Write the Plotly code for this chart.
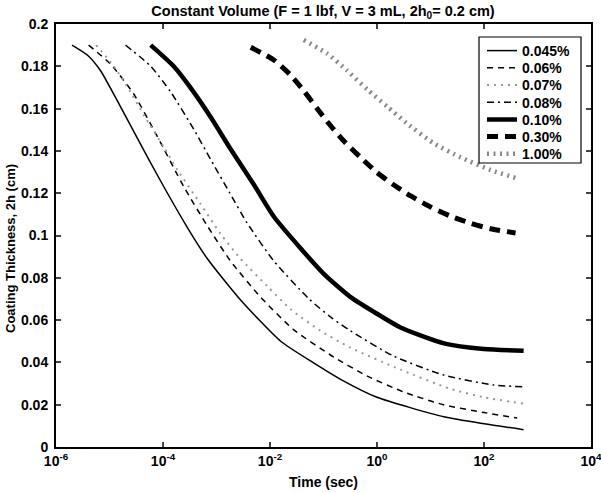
import numpy as np
import plotly.graph_objects as go

# ---- data (log10 of time in seconds, coating thickness 2h in cm) ----
logt_045 = [-5.70, -5.40, -5.17, -4.86, -4.48, -4.05, -3.55, -3.17, -2.55, -1.80, -1.20, -0.68, 0.0, 1.25, 2.0, 2.74]
h_045    = [0.190, 0.185, 0.178, 0.164, 0.146, 0.126, 0.104, 0.089, 0.0695, 0.050, 0.040, 0.032, 0.0235, 0.0143, 0.0110, 0.0082]

logt_060 = [-5.39, -4.98, -4.55, -4.11, -3.61, -3.17, -2.74, -2.18, -1.56, -0.87, -0.18, 0.50, 1.24, 2.0, 2.62]
h_060    = [0.190, 0.181, 0.167, 0.147, 0.123, 0.1045, 0.088, 0.0710, 0.0555, 0.0435, 0.0335, 0.026, 0.0200, 0.0163, 0.0137]

logt_070 = [-5.25, -4.92, -4.61, -4.36, -3.99, -3.73, -3.30, -2.93, -2.55, -2.05, -1.61, -1.06, -0.50, 0.44, 1.37, 2.0, 2.74]
h_070    = [0.190, 0.180, 0.168, 0.157, 0.142, 0.131, 0.115, 0.101, 0.089, 0.076, 0.065, 0.055, 0.047, 0.0366, 0.0275, 0.0235, 0.0205]

logt_080 = [-4.70, -4.23, -3.86, -3.42, -3.11, -2.75, -2.43, -1.93, -1.27, -0.87, -0.50, 0.31, 1.25, 2.18, 2.74]
h_080    = [0.190, 0.180, 0.168, 0.150, 0.136, 0.120, 0.106, 0.088, 0.070, 0.0615, 0.055, 0.0430, 0.0340, 0.0293, 0.0285]

logt_100 = [-4.23, -3.80, -3.49, -3.11, -2.74, -2.30, -1.93, -1.43, -1.00, -0.50, 0.0, 0.44, 1.25, 2.0, 2.74]
h_100    = [0.190, 0.180, 0.170, 0.156, 0.141, 0.124, 0.109, 0.094, 0.082, 0.071, 0.063, 0.0565, 0.049, 0.0463, 0.0455]

logt_300 = [-2.36, -1.93, -1.62, -1.37, -1.12, -0.87, -0.62, -0.31, 0.0, 0.31, 0.63, 1.0, 1.37, 1.75, 2.12, 2.59]
h_300    = [0.189, 0.183, 0.176, 0.1685, 0.160, 0.152, 0.1447, 0.1370, 0.1298, 0.1240, 0.1187, 0.1135, 0.1092, 0.1058, 0.1032, 0.1012]

logt_1000 = [-1.37, -0.93, -0.56, -0.18, 0.19, 0.56, 1.06, 1.56, 2.12, 2.62]
h_1000    = [0.1924, 0.186, 0.178, 0.169, 0.161, 0.153, 0.1436, 0.137, 0.131, 0.127]

labels = ["0.045%", "0.06%", "0.07%", "0.08%", "0.10%", "0.30%", "1.00%"]

x_tickvals = [1e-6, 1e-4, 1e-2, 1e0, 1e2, 1e4]
x_ticktext = ["10<sup>-6</sup>", "10<sup>-4</sup>", "10<sup>-2</sup>", "10<sup>0</sup>", "10<sup>2</sup>", "10<sup>4</sup>"]
y_tickvals = [0, 0.02, 0.04, 0.06, 0.08, 0.1, 0.12, 0.14, 0.16, 0.18, 0.2]
y_ticktext = ["0", "0.02", "0.04", "0.06", "0.08", "0.1", "0.12", "0.14", "0.16", "0.18", "0.2"]

styles = [
    dict(color="black", width=1.5, dash="solid"),
    dict(color="black", width=1.5, dash="6px,5px"),
    dict(color="#999999", width=2, dash="2px,5px"),
    dict(color="black", width=1.5, dash="7px,4px,2px,4px"),
    dict(color="black", width=4.5, dash="solid"),
    dict(color="black", width=5, dash="11px,7px"),
    dict(color="#888888", width=4.5, dash="2px,4.5px"),
]
series = [(logt_045, h_045), (logt_060, h_060), (logt_070, h_070), (logt_080, h_080),
          (logt_100, h_100), (logt_300, h_300), (logt_1000, h_1000)]

FONT = "Liberation Sans"
W, H = 601, 493
ML, MR, MT, MB = 56, 10, 24, 46
PW, PH = W - ML - MR, H - MT - MB

def px_x(p):
    return (p - ML) / PW

def px_y(p):
    return (H - MB - p) / PH

fig = go.Figure()
legend_names = []
for i, ((lt, h), ln, name) in enumerate(zip(series, styles, labels)):
    lg = "legend" if i == 0 else f"legend{i + 1}"
    legend_names.append(lg)
    fig.add_trace(go.Scatter(x=10 ** np.array(lt), y=h, mode="lines", name=name, legend=lg,
                             line=dict(shape="spline", smoothing=0.6, **ln)))

layout_legends = {}
row0, row_step = 50.0, 17.2
for i, lg in enumerate(legend_names):
    center = row0 + i * row_step
    layout_legends[lg] = dict(x=px_x(482), xanchor="left", y=px_y(center - 15), yanchor="top",
                              bgcolor="rgba(0,0,0,0)", borderwidth=0, itemwidth=30,
                              font=dict(family=FONT, size=14, weight="bold", color="black"))

fig.update_layout(
    width=W, height=H,
    margin=dict(l=ML, r=MR, t=MT, b=MB),
    paper_bgcolor="white", plot_bgcolor="white",
    font=dict(family=FONT, size=14, color="black", weight="bold"),
    title=dict(text="Constant Volume (F = 1 lbf, V = 3 mL, 2h<sub>0</sub>= 0.2 cm)",
               x=px_x(323), xref="paper", xanchor="center", yref="container", y=1 - 11 / H, yanchor="middle",
               font=dict(family=FONT, size=14.5, weight="bold")),
    showlegend=True,
    **layout_legends,
    shapes=[dict(type="rect", xref="paper", yref="paper", x0=px_x(479), x1=px_x(581),
                 y0=px_y(163), y1=px_y(37), line=dict(color="black", width=1.2),
                 fillcolor="white", layer="above")],
    annotations=[
        dict(text="Time (sec)", xref="paper", yref="paper", x=px_x(323), y=px_y(482),
             xanchor="center", yanchor="middle", showarrow=False,
             font=dict(family=FONT, size=14, weight="bold")),
        dict(text="Coating Thickness, 2h (cm)", xref="paper", yref="paper", x=px_x(10), y=px_y(249),
             xanchor="center", yanchor="middle", textangle=-90, showarrow=False,
             font=dict(family=FONT, size=13, weight="bold")),
    ],
)
fig.update_xaxes(type="log", range=[-6, 4], tickvals=x_tickvals, ticktext=x_ticktext,
                 ticks="inside", ticklen=5, tickwidth=1.5, showline=True, linecolor="black",
                 linewidth=2, mirror="ticks", showgrid=False, zeroline=False, automargin=False,
                 ticklabeloverflow="allow",
                 tickfont=dict(family=FONT, size=14, weight="bold"))
fig.update_yaxes(range=[0, 0.2], tickvals=y_tickvals, ticktext=y_ticktext,
                 ticks="inside", ticklen=5, tickwidth=1.5, showline=True, linecolor="black",
                 linewidth=2, mirror="ticks", showgrid=False, zeroline=False, automargin=False,
                 ticklabelstandoff=3, ticklabeloverflow="allow",
                 tickfont=dict(family=FONT, size=14, weight="bold"))

fig.write_html("out.html", config={"displayModeBar": False},
               post_script="document.body.style.margin='0px';")
